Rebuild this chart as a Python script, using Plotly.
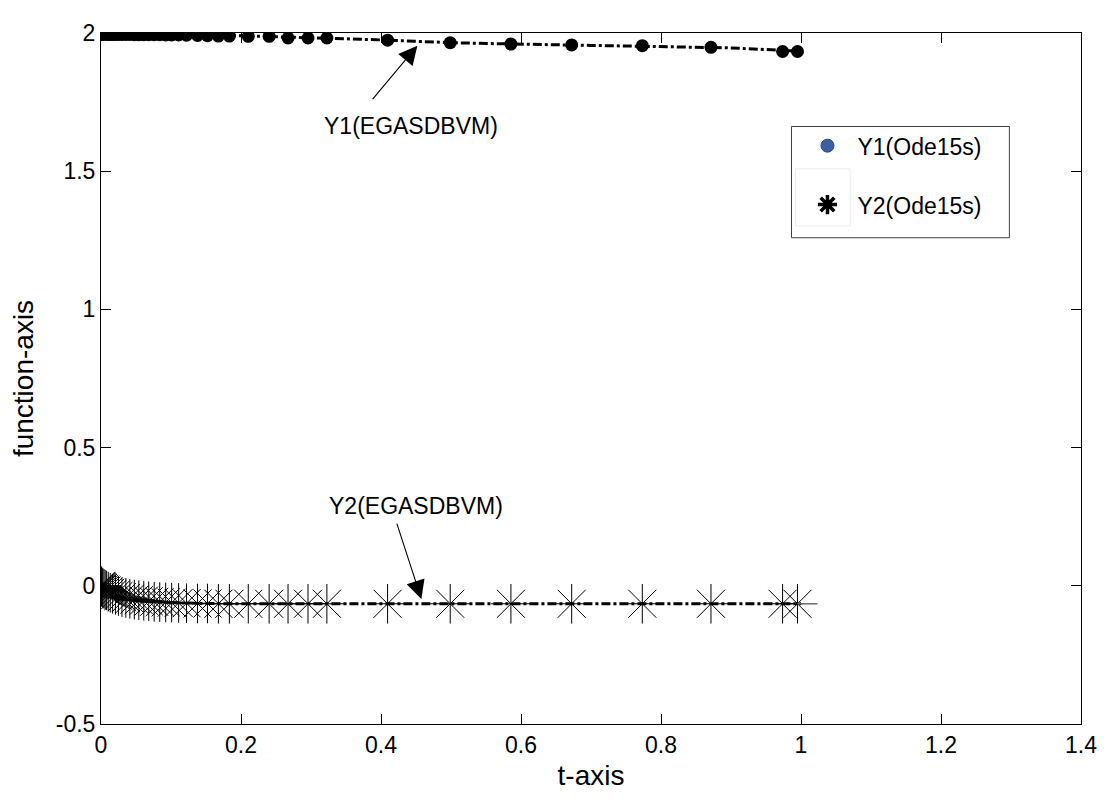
import plotly.graph_objects as go

# ode15s solution points
t_ode = [0, 0.0004, 0.001, 0.0018, 0.0028, 0.0043, 0.006, 0.008, 0.0104, 0.0132,
         0.0166, 0.0206, 0.0249, 0.0299, 0.0355, 0.0412, 0.0476, 0.054, 0.0611, 0.0682,
         0.076, 0.0839, 0.0924, 0.1009, 0.1109, 0.1222, 0.1379, 0.1521, 0.1677, 0.1834,
         0.2104, 0.2402, 0.2672, 0.2957, 0.3227, 0.4094, 0.4989, 0.5856, 0.6724, 0.7733,
         0.8714, 0.9737, 0.995]
y1_ode = [1.996, 1.996, 1.996, 1.996, 1.996, 1.996, 1.996, 1.996, 1.995, 1.995,
          1.995, 1.995, 1.995, 1.995, 1.995, 1.995, 1.994, 1.994, 1.994, 1.994,
          1.994, 1.994, 1.993, 1.993, 1.993, 1.992, 1.991, 1.990, 1.989, 1.989,
          1.988, 1.988, 1.982, 1.982, 1.982, 1.974, 1.965, 1.960, 1.957, 1.954,
          1.948, 1.933, 1.933]
y2_ode = [0.0, -0.002, -0.004, -0.006, -0.008, -0.011, -0.014, -0.017, -0.021, -0.025,
          -0.029, -0.033, -0.037, -0.041, -0.044, -0.047, -0.050, -0.052, -0.054, -0.056,
          -0.058, -0.059, -0.060, -0.061, -0.062, -0.063, -0.064, -0.064, -0.065, -0.065,
          -0.065, -0.065, -0.065, -0.065, -0.065, -0.065, -0.065, -0.065, -0.065, -0.065,
          -0.065, -0.065, -0.065]

# EGASDBVM solution curves
t_egas = [0, 0.005, 0.01, 0.02, 0.03, 0.04, 0.05, 0.06, 0.08, 0.1, 0.12, 0.15,
          0.2, 0.25, 0.3, 0.35, 0.4, 0.45, 0.5, 0.55, 0.6, 0.65, 0.7, 0.75, 0.8,
          0.85, 0.9, 0.95, 1.0]
y1_egas = [2.0, 1.998, 1.997, 1.996, 1.996, 1.995, 1.995, 1.995, 1.994, 1.993, 1.993, 1.992,
           1.990, 1.987, 1.982, 1.979, 1.975, 1.969, 1.965, 1.962, 1.959, 1.957, 1.955,
           1.953, 1.951, 1.949, 1.946, 1.940, 1.934]
y2_egas = [0.0, -0.012, -0.021, -0.033, -0.041, -0.047, -0.051, -0.054, -0.058, -0.061, -0.063,
           -0.064, -0.065, -0.065, -0.065, -0.065, -0.065, -0.065, -0.065, -0.065, -0.065,
           -0.065, -0.065, -0.065, -0.065, -0.065, -0.065, -0.065, -0.065]
t_tail = [0.995, 1.023]
y2_tail = [-0.065, -0.065]

x_ticks = [0, 0.2, 0.4, 0.6, 0.8, 1.0, 1.2, 1.4]
x_labels = ["0", "0.2", "0.4", "0.6", "0.8", "1", "1.2", "1.4"]
y_ticks = [-0.5, 0, 0.5, 1, 1.5, 2]
y_labels = ["-0.5", "0", "0.5", "1", "1.5", "2"]

FONT = "Liberation Sans, Arial, sans-serif"

fig = go.Figure()

# markers
fig.add_trace(go.Scatter(
    x=t_ode, y=y1_ode, mode="markers", showlegend=False,
    marker=dict(symbol="circle", size=13, color="black")
))
fig.add_trace(go.Scatter(
    x=t_ode, y=y2_ode, mode="markers", showlegend=False,
    marker=dict(symbol="asterisk-open", size=33, color="black",
                line=dict(color="#222222", width=1))
))

# EGASDBVM lines
dashdot = "9px,3px,3px,3px"
fig.add_trace(go.Scatter(
    x=t_egas, y=y1_egas, mode="lines", showlegend=False,
    line=dict(color="black", width=3, dash=dashdot)
))
fig.add_trace(go.Scatter(
    x=t_egas, y=y2_egas, mode="lines", showlegend=False,
    line=dict(color="black", width=3, dash=dashdot)
))
fig.add_trace(go.Scatter(
    x=t_tail, y=y2_tail, mode="lines", showlegend=False,
    line=dict(color="#888888", width=1)
))

# legend entries
fig.add_trace(go.Scatter(
    x=[None], y=[None], mode="markers", name="Y1(Ode15s)", legendgroup="a",
    marker=dict(symbol="circle", size=13, color="#3b5fa0",
                line=dict(color="#2c4a80", width=1))
))
fig.add_trace(go.Scatter(
    x=[None], y=[None], mode="markers", name="Y2(Ode15s)", legendgroup="b",
    marker=dict(symbol="asterisk-open", size=16, color="black",
                line=dict(color="black", width=3.5))
))

# annotations
fig.add_annotation(x=0.4435, y=1.665, text="Y1(EGASDBVM)", showarrow=False,
                   font=dict(family=FONT, size=23, color="black"))
fig.add_annotation(x=0.452, y=1.954, ax=-46, ay=55, text="", showarrow=True,
                   arrowhead=2, arrowsize=3.4, arrowwidth=1.1, arrowcolor="black")
fig.add_annotation(x=0.4506, y=0.287, text="Y2(EGASDBVM)", showarrow=False,
                   font=dict(family=FONT, size=23, color="black"))
fig.add_annotation(x=0.4577, y=-0.048, ax=-25, ay=-77, text="", showarrow=True,
                   arrowhead=2, arrowsize=3.4, arrowwidth=1.1, arrowcolor="black")

# legend frame and the faint box around the asterisk symbol
fig.add_shape(type="rect", xref="paper", yref="paper",
              x0=0.7046, x1=0.9269, y0=0.7037, y1=0.8647,
              line=dict(color="#404040", width=1), fillcolor="white", layer="above")
fig.add_shape(type="rect", xref="paper", yref="paper",
              x0=0.7087, x1=0.7645, y0=0.7208, y1=0.8034,
              line=dict(color="#ececec", width=1), layer="above")

fig.update_xaxes(
    range=[0, 1.4], tickvals=x_ticks, ticktext=x_labels,
    ticks="inside", ticklen=10, tickcolor="black", showline=True, linecolor="black",
    linewidth=1, mirror="allticks", showgrid=False, zeroline=False,
    title=dict(text="t-axis", standoff=8)
)
fig.update_yaxes(
    range=[-0.5, 2], tickvals=y_ticks, ticktext=y_labels,
    ticks="inside", ticklen=10, tickcolor="black", showline=True, linecolor="black",
    linewidth=1, mirror="allticks", showgrid=False, zeroline=False,
    title=dict(text="function-axis", standoff=16)
)

# the page body has an 8px margin, so the figure is shrunk to keep the plot box in place
fig.update_layout(
    width=1101, height=790,
    margin=dict(l=92, r=24, t=14, b=74),
    plot_bgcolor="white", paper_bgcolor="white",
    font=dict(family=FONT, size=23, color="black"),
    legend=dict(x=0.7107, y=0.868, xanchor="left", yanchor="top",
                borderwidth=0, bgcolor="rgba(0,0,0,0)",
                itemwidth=50, tracegroupgap=26, font=dict(size=23)),
)

fig.write_html("out.html")
